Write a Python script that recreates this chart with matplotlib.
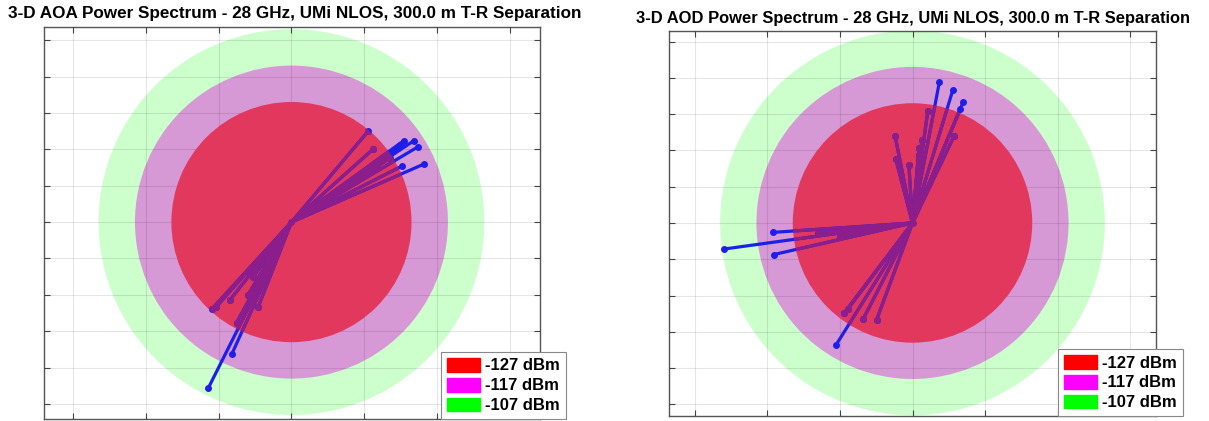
import numpy as np
import matplotlib
matplotlib.use("Agg")
import matplotlib.pyplot as plt
from matplotlib.patches import Circle, Patch

plt.rcParams["font.family"] = ["Liberation Sans", "DejaVu Sans"]

# Power contour levels (dBm) and the floor used as radial origin
levels_dbm = [-127, -117, -107]
radial_floor_dbm = -160
level_fill = ["#E3385E", "#D699D6", "#CCFFCC"]
legend_fill = ["#FF0000", "#FF00FF", "#00FF00"]

# AOA rays: endpoint coordinates (dB above floor, projected)
aoa_x = [21.1, 22.5, 30.9, 33.7, 34.8, 30.4, 36.3, 29.8, 29.3, 23.4, 27.1,
         -22.9, -21.8, -20.6, -16.9, -12.0, -9.1, -15.1, -16.4, -10.5, -11.4]
aoa_y = [25.0, 20.1, 22.4, 22.4, 20.7, 15.4, 15.9, 21.2, 20.3, 14.8, 17.6,
         -45.7, -23.8, -23.2, -21.4, -20.1, -23.2, -27.7, -36.3, -15.1, -13.9]

# AOD rays
aod_x = [7.4, 11.1, 14.0, 13.2, 11.5, 4.2, -4.8, -4.6, -1.0, 2.6, 1.8, 1.7,
         -52.0, -38.5, -38.2, -26.0, -20.0, -18.8, -17.8, -13.6, -9.9, -21.0]
aod_y = [38.8, 36.6, 33.4, 31.5, 24.0, 30.8, 24.0, 17.6, 16.0, 22.8, 20.6, 18.7,
         -7.2, -2.6, -8.7, -2.8, -3.6, -24.8, -23.7, -26.5, -26.7, -33.5]

titles = ["3-D AOA Power Spectrum - 28 GHz, UMi NLOS, 300.0 m T-R Separation",
          "3-D AOD Power Spectrum - 28 GHz, UMi NLOS, 300.0 m T-R Separation"]

W, H = 1209, 421
fig = plt.figure(figsize=(W / 100, H / 100), dpi=100)

ray_blue = "#1E1EEB"
ray_purple = "#8C1E8C"


def px_axes(x0, y0, x1, y1):
    return fig.add_axes([x0 / W, (H - y1) / H, (x1 - x0) / W, (y1 - y0) / H])


def draw_panel(ax, xs, ys, xlim, ylim):
    ax.set_xlim(*xlim)
    ax.set_ylim(*ylim)
    radii = [lv - radial_floor_dbm for lv in levels_dbm]
    red_patch = None
    for r, c, z in zip(radii[::-1], level_fill[::-1], [1, 2, 3]):
        p = Circle((0, 0), r, facecolor=c, edgecolor="none", zorder=z)
        ax.add_patch(p)
        if z == 3:
            red_patch = Circle((0, 0), r, transform=ax.transData)
    for x, y in zip(xs, ys):
        ax.plot([0, x], [0, y], color=ray_blue, lw=2.3, marker="o",
                ms=4.0, markevery=[1], solid_capstyle="butt", zorder=4)
        ln, = ax.plot([0, x], [0, y], color=ray_purple, lw=2.3, marker="o",
                      ms=4.0, markevery=[1], solid_capstyle="butt", zorder=5)
        ln.set_clip_path(red_patch)
    ax.plot([0], [0], "o", color=ray_purple, ms=4.0, zorder=6)

    ax.set_xticks(np.arange(-60, 61, 20))
    ax.set_yticks(np.arange(-50, 51, 10))
    ax.set_xticklabels([])
    ax.set_yticklabels([])
    ax.tick_params(direction="in", length=4, width=0.8, color="#444444",
                   top=True, right=True)
    ax.grid(True, color="black", alpha=0.1, lw=0.8, zorder=7)
    ax.set_axisbelow(False)
    for s in ax.spines.values():
        s.set_color("#555555")
        s.set_linewidth(1.0)


ax1 = px_axes(44, 27, 540, 419)
draw_panel(ax1, aoa_x, aoa_y, (-68.0, 68.3), (-54.1, 53.6))
ax2 = px_axes(669, 31, 1156, 416)
draw_panel(ax2, aod_x, aod_y, (-67.1, 67.1), (-53.2, 52.9))

fig.text(294.5 / W, 1 - 13.5 / H, titles[0], ha="center", va="center",
         fontsize=12.3, fontweight="bold")
fig.text(913.5 / W, 1 - 18.5 / H, titles[1], ha="center", va="center",
         fontsize=11.85, fontweight="bold")

labels = [f"{lv} dBm" for lv in levels_dbm]
for ax, (lx, ly) in zip([ax1, ax2], [(441, 419), (1058, 416)]):
    handles = [Patch(facecolor=c, edgecolor=c) for c in legend_fill]
    leg = ax.legend(handles, labels, loc="lower left",
                    bbox_to_anchor=(lx / W, (H - ly) / H),
                    bbox_transform=fig.transFigure,
                    prop={"weight": "bold", "size": 12},
                    handlelength=2.0, handleheight=0.9, handletextpad=0.3,
                    labelspacing=0.25, borderpad=0.35, borderaxespad=0,
                    fancybox=False, framealpha=1, edgecolor="#888888")
    leg.get_frame().set_linewidth(0.8)
    leg.set_zorder(10)

fig.savefig("out.png", dpi=100)
